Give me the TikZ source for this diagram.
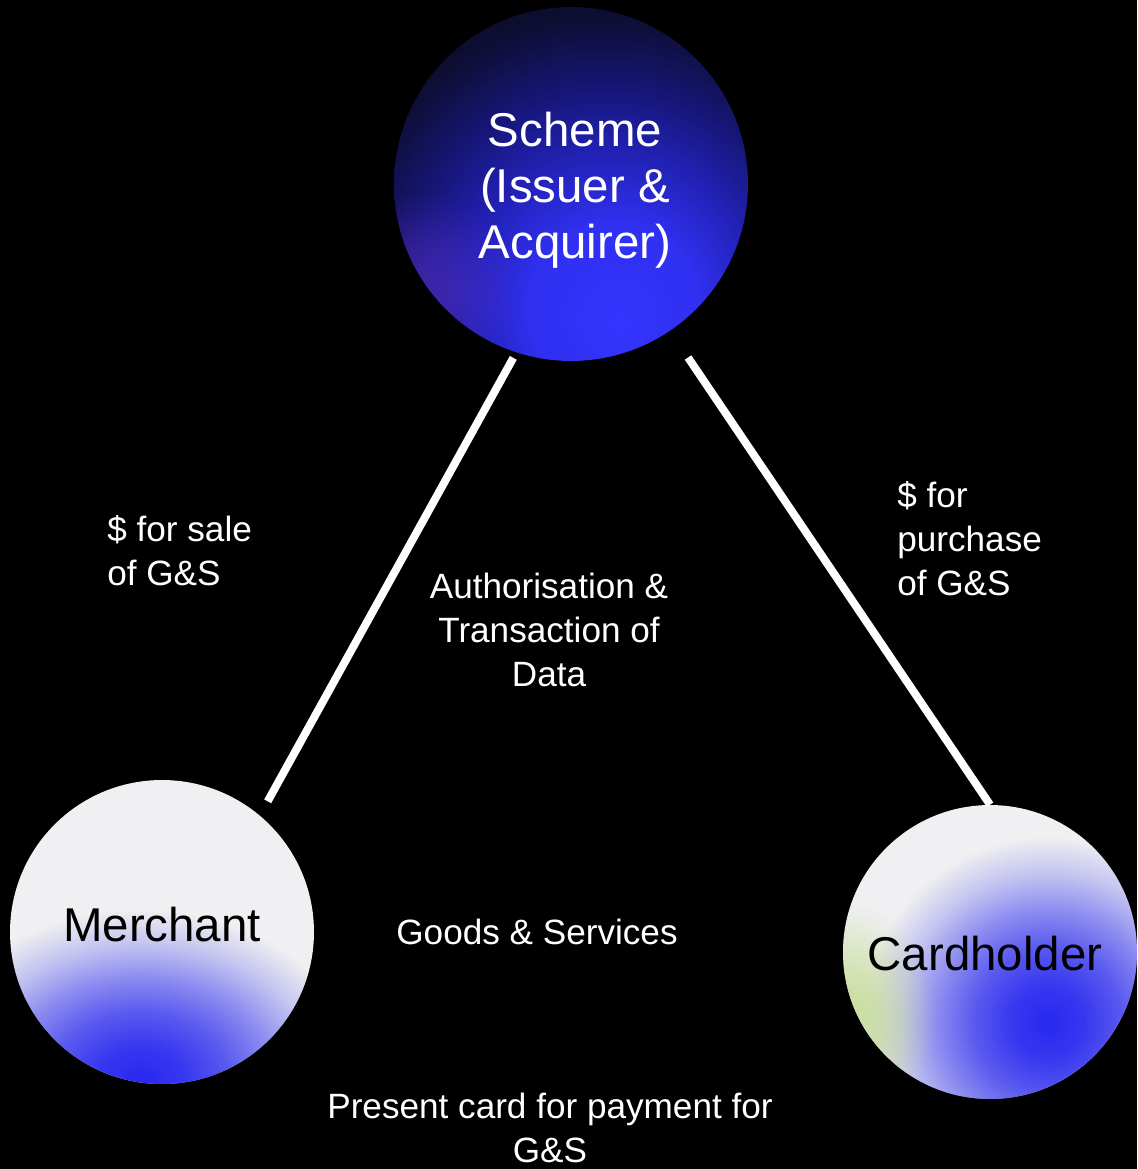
\documentclass[tikz,border=0pt]{standalone}
\usepackage{fontspec}
\setsansfont{Liberation Sans}
\usepackage{tikz}
\usetikzlibrary{fadings}
\definecolor{night}{HTML}{000000}
\definecolor{sbright}{HTML}{3434FF}
\definecolor{smid}{HTML}{3030F0}
\definecolor{sdeep}{HTML}{2222B8}
\definecolor{snavy}{HTML}{161678}
\definecolor{sdark}{HTML}{0E0E36}
\definecolor{sblack}{HTML}{0A0A14}
\definecolor{stint}{HTML}{5A2EC0}
\definecolor{paper}{HTML}{F0F0F2}
\definecolor{glow}{HTML}{2828F0}
\definecolor{ctint}{HTML}{C5DC95}
\pgfdeclareradialshading{schemeglow}{\pgfpoint{7bp}{-20bp}}{%
  color(0bp)=(sbright);color(12bp)=(smid);color(20bp)=(sdeep);
  color(28bp)=(snavy);color(36bp)=(sdark);color(44bp)=(sblack);color(100bp)=(sblack)}
% soft blob, opaque in the middle and gone at the rim
\pgfdeclareradialshading{spotmask}{\pgfpointorigin}{%
  color(0bp)=(pgftransparent!0);color(5bp)=(pgftransparent!8);color(10bp)=(pgftransparent!25);
  color(15bp)=(pgftransparent!50);color(20bp)=(pgftransparent!78);color(25bp)=(pgftransparent!100);
  color(50bp)=(pgftransparent!100)}
\pgfdeclarefading{softspot}{\pgfuseshading{spotmask}}
\tikzset{
  party/.style={circle,minimum size=#1,inner sep=0pt},
  link/.style={draw=white,line width=4.5pt},
  lbl/.style={text=white,font=\sffamily\fontsize{20}{25}\selectfont,inner sep=0pt,align=#1},
  lbl/.default=center,
  ptext/.style={text=#1,font=\sffamily\fontsize{27}{32}\selectfont,inner sep=0pt,align=center},
  tint/.style={fill=#1,path fading=softspot},
}
\begin{document}
\begin{tikzpicture}[x=0.02cm,y=-0.02cm]
  \fill[night] (0,0) rectangle (1137,1169);
  \useasboundingbox (0,0) rectangle (1137,1169);
  % parties
  \node[party=7.08cm,shading=schemeglow] (scheme) at (571,184) {};
  \node[party=6.08cm,fill=paper] (merch) at (162,932) {};
  \node[party=5.88cm,fill=paper] (card) at (990,952) {};
  % tints
  \begin{scope}
    \clip (scheme.center) circle[radius=177];
    \fill[tint=stint,opacity=.55] (420,290) circle[radius=100];
  \end{scope}
  \begin{scope}
    \clip (merch.center) circle[radius=152];
    \fill[tint=glow] (140,1080) ellipse[x radius=220,y radius=170];
  \end{scope}
  \begin{scope}
    \clip (card.center) circle[radius=147];
    \fill[tint=glow] (1048,1022) circle[radius=185];
    \fill[tint=ctint,opacity=.9] (846,1020) ellipse[x radius=90,y radius=120];
  \end{scope}
  \node[ptext=white] (schemetxt) at (575,190) {Scheme\\(Issuer \&\\Acquirer)};
  \node[ptext=black] (merchtxt) at (162,925) {Merchant};
  \node[ptext=black] (cardtxt) at (985,954) {Cardholder};
  % links
  \draw[link,shorten <=0.12cm,shorten >=0.32cm] (scheme.252) -- (merch.50);
  \draw[link,shorten <=0.64cm] (scheme.304) -- (card.north);
  % flows
  \node[lbl=left,anchor=west] (sale) at (107,551) {\$ for sale\\of G\&S};
  \node[lbl] (auth) at (549,630) {Authorisation \&\\Transaction of\\Data};
  \node[lbl=left,anchor=west] (purch) at (897,539) {\$ for\\purchase\\of G\&S};
  \node[lbl] (goods) at (537,932) {Goods \& Services};
  \node[lbl] (present) at (550,1128) {Present card for payment for\\G\&S};
\end{tikzpicture}
\end{document}
